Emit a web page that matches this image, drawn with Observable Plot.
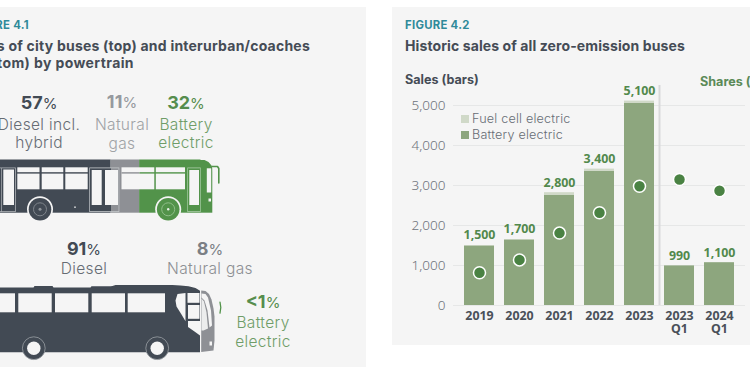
<!DOCTYPE html>
<html>
<head>
<meta charset="utf-8">
<script src="https://cdn.jsdelivr.net/npm/d3@7"></script>
<script src="https://cdn.jsdelivr.net/npm/@observablehq/plot@0.6"></script>
<style>
  html, body { margin: 0; padding: 0; background: #fff; }
  #page { position: relative; width: 750px; height: 375px; overflow: hidden; background: #fff;
          font-family: Inter, "Open Sans", sans-serif; color: #424a54; }
  .panel { position: absolute; background: #f5f5f5; }
  .t { position: absolute; white-space: nowrap; line-height: 1; }
  .c { transform: translateX(-50%); text-align: center; }
  .fig { font-weight: 700; font-size: 11.3px; color: #2f8a9a; letter-spacing: .3px; }
  .title { font-weight: 700; font-size: 14px; color: #454c56; letter-spacing: .1px; }
  .pct { font-weight: 700; font-size: 18px; }
  .pct span { font-weight: 400; font-size: 15px; }
  .lab { font-weight: 300; font-size: 15.5px; letter-spacing: .35px; }
  #page svg { position: absolute; overflow: visible; background: none; }
  .sw { position: absolute; width: 8px; height: 8px; }
  .leg { font-weight: 300; font-size: 12.6px; color: #666c74; letter-spacing: .2px; }
</style>
</head>
<body>
<div id="page">
  <div class="panel" style="left:0;top:7px;width:366px;height:360px"></div>
  <div class="panel" style="left:392px;top:7px;width:358px;height:338px"></div>
</div>
<script>
// ---- Figure 4.1 data
const powertrains = ["Diesel", "Natural gas", "Battery electric"];
const cityShares = [57, 11, 32];
// ---- Figure 4.2 data
const periods = ["2019", "2020", "2021", "2022", "2023", "2023 Q1", "2024 Q1"];
const batterySales = [1490, 1640, 2750, 3350, 5050, 990, 1070];
const fuelCellSales = [10, 10, 70, 60, 60, 0, 0];
const totalLabels = ["1,500", "1,700", "2,800", "3,400", "5,100", "990", "1,100"];
const zeroEmissionShares = [8.2, 11.4, 18.1, 23.2, 29.8, 31.5, 28.7];
const salesTicks = [0, 1000, 2000, 3000, 4000, 5000];

const DARK = "#424a54", GREY = "#8e9095", GREEN = "#52934a", PANEL = "#f5f5f5";
const page = document.getElementById("page");

// ---- Text helper
function text(html, cls, style) {
  const d = document.createElement("div");
  d.className = "t " + cls;
  d.innerHTML = html;
  d.style.cssText = style;
  page.appendChild(d);
}

// ---- Bus illustration (share axis in percent; u() maps panel units onto it)
const u = p => (p + 37) / 2.59;
const rects = (list, fill) => Plot.rect(list, {x1: d => u(d[0]), x2: d => u(d[1]), y1: d => d[2], y2: d => d[3], fill});
const poly = (pts, fill) => Plot.line(pts, {x: d => u(d[0]), y: d => d[1], fill, stroke: "none"});
const path = (pts, stroke, w) => Plot.line(pts, {x: d => u(d[0]), y: d => d[1], stroke, strokeWidth: w, fill: "none"});
const disc = (cx, cy, r, fill, stroke, w) => Plot.dot([[cx, cy]], {x: d => u(d[0]), y: d => d[1], r, fill, stroke: stroke || "none", strokeWidth: w || 0});
const cityTable = powertrains.map((p, i) => ({powertrain: p, share: cityShares[i]}));

const cityBus = [
  Plot.rectX(cityTable, {x: "share", y1: () => 159.5, y2: () => 212.7, fill: "powertrain"}),
  // panel-coloured mask: shapes the front of the body
  poly([[212.3, 150], [212.3, 172], [212, 168], [211, 165], [208, 161.5], [204, 159.5], [200, 159.5], [200, 150], [225, 150], [225, 225], [200, 225], [212.3, 212.7], [225, 212.7], [225, 172]], PANEL),
  rects([[212.3, 225, 159, 225]], PANEL),
  // roof corner
  poly([[200, 158.5], [205, 158.5], [209, 161], [212.4, 165], [212.4, 158.5]], PANEL),
  // passenger windows
  rects([[17.3, 39.5, 167.3, 189.3], [41.7, 63.3, 167.3, 189.3], [65.3, 87.7, 167.3, 189.3],
         [121.5, 154.3, 167.3, 189.3], [155.8, 185, 167.3, 189.3], [206.8, 211.2, 168.3, 192.5]], PANEL),
  rects([[17, 88, 172.2, 173.6]], DARK),
  rects([[121.5, 139.5, 172.2, 173.6]], GREY),
  rects([[139.5, 185, 172.2, 173.6]], GREEN),
  // door frames
  rects([[-2, 15.8, 167.5, 212]], "#aeb2b6"),
  rects([[-2, 15, 168.3, 211.2]], DARK),
  rects([[3.3, 14, 169.5, 205]], PANEL),
  rects([[1.2, 1.9, 168, 212]], "#aeb2b6"),
  rects([[89.3, 119.3, 167.5, 212]], "#c4c7ca"),
  rects([[90, 111, 168.3, 211.2]], DARK),
  rects([[111, 118.6, 168.3, 211.2]], GREY),
  rects([[91.7, 101.7, 170, 205], [105, 118, 170, 205]], PANEL),
  rects([[187.3, 200.7, 167.5, 212]], "#a9cca5"),
  rects([[188, 200, 168.3, 211.2]], GREEN),
  rects([[189.3, 199, 170, 205]], PANEL),
  rects([[208.5, 211, 198.5, 201.5]], PANEL),
  // mirror
  path([[211.5, 166], [217, 166], [218.3, 168], [218.3, 182.5]], GREEN, 1.6),
  // wheels
  disc(39.5, 208.8, 13, PANEL),
  disc(39.5, 208.8, 11.3, DARK),
  disc(39.5, 208.8, 6.5, "none", "#7f858c", 1),
  disc(39.5, 208.8, 1.5, "#8f949a"),
  rects([[74.2, 75.8, 206.4, 208]], "#cfd1d4"),
  disc(167.7, 208.8, 13, PANEL),
  disc(167.7, 208.8, 11.3, GREEN),
  disc(167.7, 208.8, 6.5, "none", "#8fbe89", 1),
  disc(167.7, 208.8, 1.2, "#e8f1e6")
];

const coach = [
  // body
  poly([[-40, 287], [33, 287], [34, 285.6], [52, 285.6], [53, 287], [90, 287], [91, 285.8], [110, 285.8], [112, 285.6], [115, 284.6], [172, 284.6], [180, 284.9], [188, 285.8], [195, 287.5], [199.5, 290.2], [199.5, 351.7], [-40, 351.7]], DARK),
  // side windows
  rects([[-5, 15, 293.3, 312.3], [18.3, 51.7, 293.3, 312.3], [55, 88.3, 293.3, 312.3], [91.7, 125, 293.3, 312.3], [127.7, 165, 293.3, 312.3]], PANEL),
  // door glass
  poly([[177, 293.5], [185, 292.5], [185, 320.7], [181, 314], [176, 306], [175, 300]], PANEL),
  rects([[187.5, 199.5, 293, 302.8], [188, 199.5, 305, 318.8]], PANEL),
  poly([[187.5, 320.4], [199.5, 320.4], [199.5, 335], [194, 331], [187.5, 326.5]], PANEL),
  // front section
  poly([[200.7, 290], [205, 290.5], [208.5, 293.5], [211, 299], [213, 308], [214, 316], [214, 340], [213, 350], [200.7, 351.5]], GREY),
  poly([[201, 293], [205, 293.5], [207.5, 297], [210.5, 310], [211.5, 325], [209, 327], [207, 310], [204, 300], [201, 297]], PANEL),
  poly([[201, 298], [203.5, 301], [206, 312], [207.5, 328], [203, 330], [201, 330]], "#eceded"),
  rects([[209.5, 212, 341.5, 345.5]], PANEL),
  path([[219.5, 301.7], [220.3, 307], [219.5, 312.7]], GREEN, 1.3),
  // wheels
  disc(33.3, 347.7, 11.4, DARK, "#9aa0a5", 0.8),
  disc(33.3, 347.7, 6.7, PANEL),
  disc(156.7, 347.7, 11.4, DARK, "#9aa0a5", 0.8),
  disc(156.7, 347.7, 6.7, PANEL)
];

const left = Plot.plot({
  width: 366, height: 375, margin: 0,
  x: {domain: [0, 100], range: [-37, 222], axis: null},
  y: {type: "identity", axis: null},
  color: {domain: powertrains, range: [DARK, GREY, GREEN]},
  style: {background: "transparent"},
  marks: [...cityBus, ...coach]
});
left.style.left = "0"; left.style.top = "0";
page.appendChild(left);

// ---- Figure 4.1 texts
text("FIGURE 4.1", "fig", "right:" + (750 - 29) + "px;top:20px");
text("Shares of city buses (top) and interurban/coaches", "title", "right:" + (750 - 310) + "px;top:39px;letter-spacing:.22px");
text("(bottom) by powertrain", "title", "right:" + (750 - 134) + "px;top:56px;letter-spacing:.4px");
text("57<span>%</span>", "pct c", "left:39px;top:94px;color:#424a54");
text("11<span>%</span>", "pct c", "left:122px;top:93px;color:#96999e");
text("32<span>%</span>", "pct c", "left:186px;top:94px;color:#568d4d");
text("Diesel incl.", "lab c", "left:39px;top:117px;color:#666c74");
text("hybrid", "lab c", "left:39px;top:135px;color:#666c74");
text("Natural", "lab c", "left:122px;top:117px;color:#a0a3a6");
text("gas", "lab c", "left:122px;top:136px;color:#a0a3a6");
text("Battery", "lab c", "left:186px;top:117px;color:#6f9d68");
text("electric", "lab c", "left:186px;top:135px;color:#6f9d68");
text("91<span>%</span>", "pct c", "left:84px;top:240px;color:#424a54");
text("Diesel", "lab c", "left:84px;top:261px;color:#666c74");
text("8<span>%</span>", "pct c", "left:210px;top:240px;color:#7b7f85");
text("Natural gas", "lab c", "left:210px;top:261px;color:#8d9094");
text("&lt;1<span>%</span>", "pct c", "left:263px;top:293px;color:#568d4d");
text("Battery", "lab c", "left:263px;top:315px;color:#6f9d68");
text("electric", "lab c", "left:263px;top:334px;color:#6f9d68");

// ---- Figure 4.2 texts
text("FIGURE 4.2", "fig", "left:405px;top:20px");
text("Historic sales of all zero-emission buses", "title", "left:405px;top:39px");
text("Sales (bars)", "t", "left:405px;top:74px;font-weight:700;font-size:12.6px;color:#454c56");
text("Shares (dots)", "t", "left:700px;top:76px;font-weight:700;font-size:12.6px;color:#5b8a58");

// ---- Figure 4.2 chart
const sales = periods.flatMap((p, i) => [
  {period: p, type: "Battery electric", value: batterySales[i]},
  {period: p, type: "Fuel cell electric", value: fuelCellSales[i]}
]);
const summary = periods.map((p, i) => ({
  period: p,
  top: batterySales[i] + fuelCellSales[i],
  label: totalLabels[i],
  share: zeroEmissionShares[i]
}));
const right = Plot.plot({
  width: 358, height: 285,
  marginLeft: 66, marginRight: 10, marginTop: 45, marginBottom: 40,
  style: {background: "transparent"},
  x: {domain: periods, paddingInner: 0.24, paddingOuter: 0.12, label: null},
  y: {domain: [0, 5000], label: null},
  color: {domain: ["Battery electric", "Fuel cell electric"], range: ["#8da67e", "#d0d9c8"]},
  marks: [
    Plot.ruleY(salesTicks, {stroke: "#e6e7e7", strokeWidth: 1, insetLeft: -5, insetRight: -5}),
    Plot.barY(sales, {x: "period", y: "value", fill: "type", order: ["Battery electric", "Fuel cell electric"]}),
    Plot.ruleX(["2023 Q1"], {x: d => d, y1: () => 0, y2: () => 5500, dx: -20, stroke: "#d8d9da", strokeWidth: 2}),
    Plot.axisY({ticks: salesTicks, tickSize: 0, tickPadding: 13, tickFormat: d3.format(","), fontSize: 13.5, fontWeight: 300, fill: "#6d727a", label: null}),
    Plot.axisX({tickSize: 0, tickPadding: 6, tickFormat: d => d.replace(" ", "\n"), fontSize: 12.4, fontWeight: 700, fill: "#4a5059", lineHeight: 1, label: null}),
    Plot.text(summary, {x: "period", y: "top", text: "label", dy: -10, fontSize: 12.4, fontWeight: 700, fill: "#52894c"}),
    Plot.dot(summary, {x: "period", y: d => d.share * 100, r: 6, fill: "#4a8243", stroke: "#fff", strokeWidth: 1.5})
  ]
});
right.style.left = "392px"; right.style.top = "60px";
page.appendChild(right);

// ---- Legend
[["Fuel cell electric", "#d0d9c8", 114.5], ["Battery electric", "#8da67e", 131]].forEach(([name, col, y]) => {
  const s = document.createElement("div");
  s.className = "sw";
  s.style.cssText = `left:461px;top:${y}px;background:${col}`;
  page.appendChild(s);
  text(name, "leg", `left:472px;top:${y - 2}px`);
});
</script>
</body>
</html>
